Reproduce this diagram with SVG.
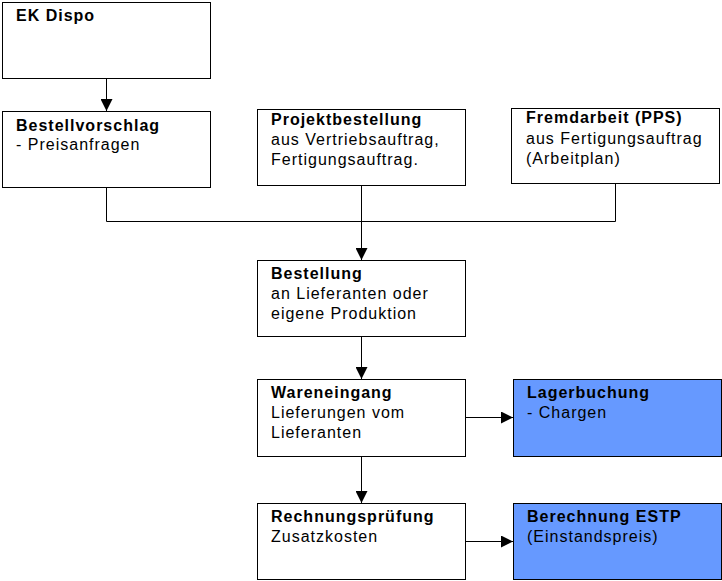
<svg xmlns="http://www.w3.org/2000/svg" width="722" height="581" viewBox="0 0 722 581">
<style>
.box{fill:#fff;stroke:#000;stroke-width:1}
.blue{fill:#6699ff;stroke:#000;stroke-width:1}
text{font-family:"Liberation Sans",Arial,sans-serif;font-size:16px;letter-spacing:1px;fill:#000}
.b{font-weight:bold}
.c{fill:none;stroke:#000;stroke-width:1}
</style>
<defs>
<marker id="ah" viewBox="0 0 12 12" refX="12" refY="6" markerWidth="12" markerHeight="12" markerUnits="userSpaceOnUse" orient="auto">
<path d="M0,0 L12,6 L0,12 Z" fill="#000"/>
</marker>
</defs>
<rect width="722" height="581" fill="#fff"/>
<g id="connectors">
<path class="c" d="M106.5,78 V111" marker-end="url(#ah)"/>
<path class="c" d="M106.5,187 V221.5 H615.5 V184"/>
<path class="c" d="M361.5,185 V260" marker-end="url(#ah)"/>
<path class="c" d="M361.5,336 V379" marker-end="url(#ah)"/>
<path class="c" d="M361.5,456 V503" marker-end="url(#ah)"/>
<path class="c" d="M465,417.5 H513" marker-end="url(#ah)"/>
<path class="c" d="M465,541.5 H513" marker-end="url(#ah)"/>
</g>
<g id="ek-dispo">
<rect class="box" x="2.5" y="2.5" width="208" height="76"/>
<text class="b" x="16" y="21">EK Dispo</text>
</g>
<g id="bestellvorschlag">
<rect class="box" x="2.5" y="111.5" width="208" height="76"/>
<text class="b" x="16" y="131">Bestellvorschlag</text>
<text x="16" y="150">- Preisanfragen</text>
</g>
<g id="projektbestellung">
<rect class="box" x="257.5" y="109.5" width="208" height="76"/>
<text class="b" x="271" y="125">Projektbestellung</text>
<text x="271" y="145">aus Vertriebsauftrag,</text>
<text x="271" y="165">Fertigungsauftrag.</text>
</g>
<g id="fremdarbeit">
<rect class="box" x="511.5" y="108.5" width="208" height="75"/>
<text class="b" x="526" y="123">Fremdarbeit (PPS)</text>
<text x="526" y="144">aus Fertigungsauftrag</text>
<text x="526" y="164">(Arbeitplan)</text>
</g>
<g id="bestellung">
<rect class="box" x="257.5" y="260.5" width="208" height="76"/>
<text class="b" x="271" y="279">Bestellung</text>
<text x="271" y="299">an Lieferanten oder</text>
<text x="271" y="319">eigene Produktion</text>
</g>
<g id="wareneingang">
<rect class="box" x="257.5" y="379.5" width="208" height="77"/>
<text class="b" x="271" y="398">Wareneingang</text>
<text x="271" y="418">Lieferungen vom</text>
<text x="271" y="438">Lieferanten</text>
</g>
<g id="lagerbuchung">
<rect class="blue" x="513.5" y="379.5" width="208" height="77"/>
<text class="b" x="527" y="398">Lagerbuchung</text>
<text x="527" y="418">- Chargen</text>
</g>
<g id="rechnungspruefung">
<rect class="box" x="257.5" y="503.5" width="208" height="76"/>
<text class="b" x="271" y="522">Rechnungsprüfung</text>
<text x="271" y="542">Zusatzkosten</text>
</g>
<g id="berechnung">
<rect class="blue" x="513.5" y="503.5" width="208" height="76"/>
<text class="b" x="527" y="522">Berechnung ESTP</text>
<text x="527" y="542">(Einstandspreis)</text>
</g>
</svg>
